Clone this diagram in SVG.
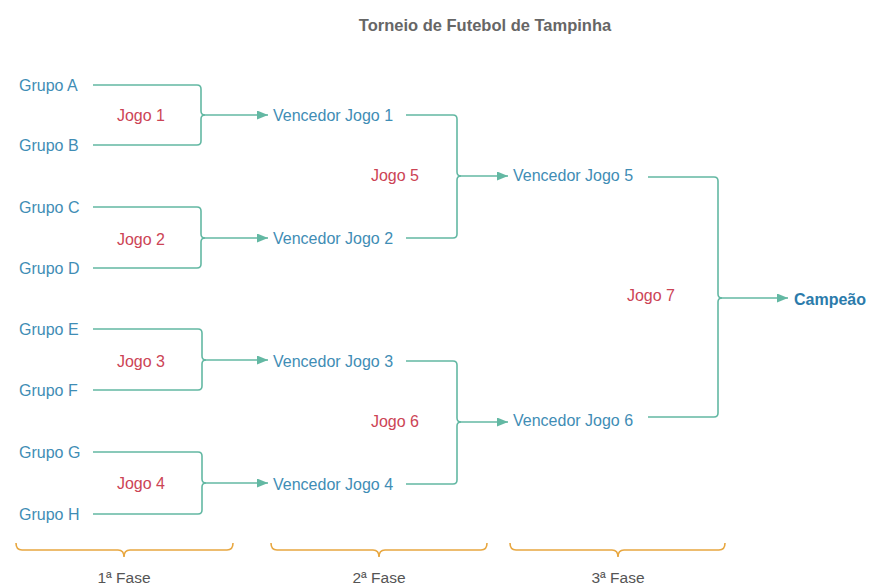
<svg xmlns="http://www.w3.org/2000/svg" width="869" height="587" viewBox="0 0 869 587">
<defs>
<style>
text{font-family:"Liberation Sans",Arial,sans-serif;font-size:16px}
.g{fill:#3f8db5}
.j{fill:#cc4455}
.t{fill:#666;font-weight:bold;font-size:16.5px}
.c{fill:#2b7bab;font-weight:bold}
.f{fill:#555;font-size:15.5px}
.ln{fill:none;stroke:#63b8a3;stroke-width:1.6}
.br{fill:none;stroke:#e8a740;stroke-width:1.6}
</style>
<marker id="ah" markerUnits="userSpaceOnUse" markerWidth="12" markerHeight="10" refX="11" refY="4.5" orient="auto">
<path d="M0,0 L11,4.5 L0,9 z" fill="#63b8a3"/>
</marker>
</defs>
<rect width="869" height="587" fill="#fff"/>
<text class="t" x="485" y="31" text-anchor="middle">Torneio de Futebol de Tampinha</text>

<g id="connectors">
<path class="ln" d="M93 85 H197 Q201 85 201 89 V111 Q201 115 205 115"/>
<path class="ln" d="M93 145 H197 Q201 145 201 141 V119 Q201 115 205 115"/>
<path class="ln" d="M205 115 H268" marker-end="url(#ah)"/>

<path class="ln" d="M93 207 H197 Q201 207 201 211 V234 Q201 238 205 238"/>
<path class="ln" d="M93 268 H197 Q201 268 201 264 V242 Q201 238 205 238"/>
<path class="ln" d="M205 238 H268" marker-end="url(#ah)"/>

<path class="ln" d="M93 329 H198 Q202 329 202 333 V356 Q202 360 206 360"/>
<path class="ln" d="M93 390 H198 Q202 390 202 386 V364 Q202 360 206 360"/>
<path class="ln" d="M206 360 H268" marker-end="url(#ah)"/>

<path class="ln" d="M93 452 H198 Q202 452 202 456 V479 Q202 483 206 483"/>
<path class="ln" d="M93 514 H198 Q202 514 202 510 V487 Q202 483 206 483"/>
<path class="ln" d="M206 483 H268" marker-end="url(#ah)"/>

<path class="ln" d="M406 115 H453 Q457 115 457 119 V172 Q457 176 461 176"/>
<path class="ln" d="M406 238 H453 Q457 238 457 234 V180 Q457 176 461 176"/>
<path class="ln" d="M461 176 H508" marker-end="url(#ah)"/>

<path class="ln" d="M406 361 H453 Q457 361 457 365 V418 Q457 422 461 422"/>
<path class="ln" d="M406 484 H453 Q457 484 457 480 V426 Q457 422 461 422"/>
<path class="ln" d="M461 422 H508" marker-end="url(#ah)"/>

<path class="ln" d="M648 177 H714 Q718 177 718 181 V294 Q718 298 722 298"/>
<path class="ln" d="M648 417 H714 Q718 417 718 413 V302 Q718 298 722 298"/>
<path class="ln" d="M722 298 H788" marker-end="url(#ah)"/>
</g>

<g id="grupo-a"><text class="g" x="19" y="91">Grupo A</text></g>
<g id="grupo-b"><text class="g" x="19" y="151">Grupo B</text></g>
<g id="grupo-c"><text class="g" x="19" y="213">Grupo C</text></g>
<g id="grupo-d"><text class="g" x="19" y="274">Grupo D</text></g>
<g id="grupo-e"><text class="g" x="19" y="335">Grupo E</text></g>
<g id="grupo-f"><text class="g" x="19" y="396">Grupo F</text></g>
<g id="grupo-g"><text class="g" x="19" y="458">Grupo G</text></g>
<g id="grupo-h"><text class="g" x="19" y="520">Grupo H</text></g>

<g id="jogo-1"><text class="j" x="141" y="121" text-anchor="middle">Jogo 1</text></g>
<g id="jogo-2"><text class="j" x="141" y="245" text-anchor="middle">Jogo 2</text></g>
<g id="jogo-3"><text class="j" x="141" y="367" text-anchor="middle">Jogo 3</text></g>
<g id="jogo-4"><text class="j" x="141" y="489" text-anchor="middle">Jogo 4</text></g>
<g id="jogo-5"><text class="j" x="395" y="181" text-anchor="middle">Jogo 5</text></g>
<g id="jogo-6"><text class="j" x="395" y="427" text-anchor="middle">Jogo 6</text></g>
<g id="jogo-7"><text class="j" x="651" y="301" text-anchor="middle">Jogo 7</text></g>

<g id="vencedor-1"><text class="g" x="273" y="121">Vencedor Jogo 1</text></g>
<g id="vencedor-2"><text class="g" x="273" y="244">Vencedor Jogo 2</text></g>
<g id="vencedor-3"><text class="g" x="273" y="367">Vencedor Jogo 3</text></g>
<g id="vencedor-4"><text class="g" x="273" y="490">Vencedor Jogo 4</text></g>
<g id="vencedor-5"><text class="g" x="513" y="181">Vencedor Jogo 5</text></g>
<g id="vencedor-6"><text class="g" x="513" y="426">Vencedor Jogo 6</text></g>
<g id="campeao"><text class="c" x="794" y="305">Campeão</text></g>

<g id="fase-1">
<path class="br" d="M16 543 Q16 550 22 550 H118 Q124 550 124 557 Q124 550 130 550 H227 Q233 550 233 543"/>
<text class="f" x="124" y="583" text-anchor="middle">1ª Fase</text>
</g>
<g id="fase-2">
<path class="br" d="M271 543 Q271 550 277 550 H373 Q379 550 379 557 Q379 550 385 550 H481 Q487 550 487 543"/>
<text class="f" x="379" y="583" text-anchor="middle">2ª Fase</text>
</g>
<g id="fase-3">
<path class="br" d="M510 543 Q510 550 516 550 H612 Q618 550 618 557 Q618 550 624 550 H719 Q725 550 725 543"/>
<text class="f" x="618" y="583" text-anchor="middle">3ª Fase</text>
</g>
</svg>
